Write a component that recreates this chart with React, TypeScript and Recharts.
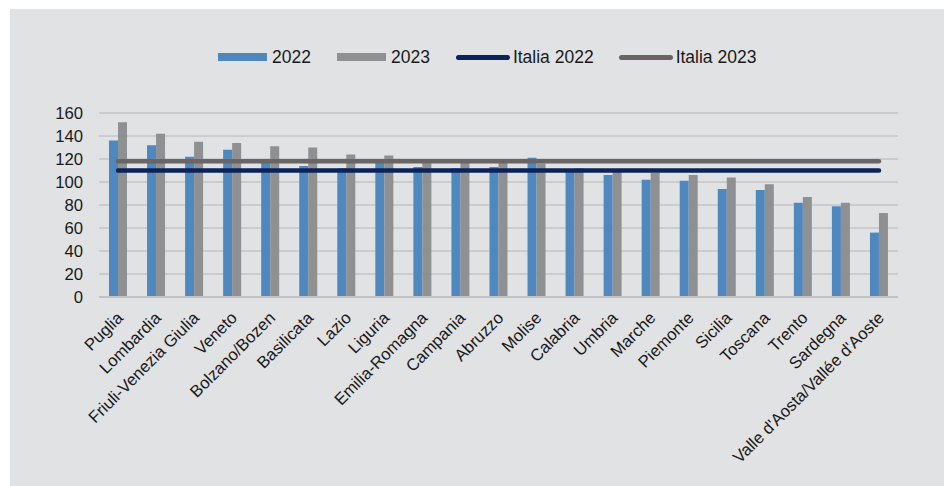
import { ComposedChart, Bar, Line, XAxis, YAxis, CartesianGrid } from 'recharts';

const regions = [
  'Puglia', 'Lombardia', 'Friuli-Venezia Giulia', 'Veneto', 'Bolzano/Bozen', 'Basilicata', 'Lazio',
  'Liguria', 'Emilia-Romagna', 'Campania', 'Abruzzo', 'Molise', 'Calabria', 'Umbria', 'Marche',
  'Piemonte', 'Sicilia', 'Toscana', 'Trento', 'Sardegna', "Valle d'Aosta/Vallée d'Aoste",
];
const values2022 = [136, 132, 122, 128, 118, 114, 112, 117, 113, 112, 113, 121, 110, 106, 102, 101, 94, 93, 82, 79, 56];
const values2023 = [152, 142, 135, 134, 131, 130, 124, 123, 119, 119, 119, 116, 112, 109, 108, 106, 104, 98, 87, 82, 73];
const italia2022 = 110;
const italia2023 = 118;
const yTicks = [0, 20, 40, 60, 80, 100, 120, 140, 160];

const data = regions.map((name, i) => ({
  name,
  y2022: values2022[i],
  y2023: values2023[i],
  it2022: italia2022,
  it2023: italia2023,
}));

const BLUE = '#4f87bf';
const GRAY = '#8f9092';
const NAVY = '#0b2358';
const DARKGRAY = '#696565';
const FONT = '"Liberation Sans", Arial, sans-serif';

function RotatedTick({ x, y, payload }: any) {
  const tx = x + 6;
  const ty = y + 20;
  return (
    <text
      x={tx}
      y={ty}
      transform={`rotate(-45, ${tx}, ${ty})`}
      textAnchor="end"
      fontSize={16.7}
      fontFamily={FONT}
      fill="#1a1a1a"
    >
      {payload.value}
    </text>
  );
}

function LegendItem({ color, label, line }: { color: string; label: string; line?: boolean }) {
  return (
    <div style={{ display: 'flex', alignItems: 'center', marginRight: line ? 25 : 26 }}>
      {line ? (
        <div style={{ width: 54, height: 5, borderRadius: 3, background: color, marginRight: 3 }} />
      ) : (
        <div style={{ width: 49, height: 8, background: color, marginRight: 5 }} />
      )}
      <span>{label}</span>
    </div>
  );
}

export default function App() {
  return (
    <div
      style={{
        position: 'absolute',
        left: 10,
        top: 9,
        width: 934,
        height: 477,
        background: '#e1e2e4',
        fontFamily: FONT,
      }}
    >
      <div
        style={{
          position: 'absolute',
          left: 208,
          top: 38,
          display: 'flex',
          fontSize: 17.5,
          color: '#1a1a1a',
          lineHeight: '20px',
        }}
      >
        <LegendItem color={BLUE} label="2022" />
        <LegendItem color={GRAY} label="2023" />
        <LegendItem color={NAVY} label="Italia 2022" line />
        <LegendItem color={DARKGRAY} label="Italia 2023" line />
      </div>
      <ComposedChart
        width={934}
        height={477}
        data={data}
        margin={{ top: 104, right: 46, left: 0, bottom: 0 }}
        barGap={0}
      >
        <CartesianGrid vertical={false} stroke="#c4c5c7" strokeWidth={1.4} />
        <XAxis
          dataKey="name"
          interval={0}
          height={189}
          tickLine={false}
          tickSize={0}
          axisLine={{ stroke: '#c0c1c3', strokeWidth: 2 }}
          tick={<RotatedTick />}
        />
        <YAxis
          width={89}
          domain={[0, 160]}
          ticks={yTicks}
          interval={0}
          axisLine={false}
          tickLine={false}
          tickSize={0}
          tickMargin={16}
          tick={{ fontSize: 16.7, fontFamily: FONT, fill: '#1a1a1a' }}
        />
        <Bar dataKey="y2022" name="2022" fill={BLUE} barSize={9} isAnimationActive={false} />
        <Bar dataKey="y2023" name="2023" fill={GRAY} barSize={9} isAnimationActive={false} />
        <Line
          dataKey="it2022"
          name="Italia 2022"
          stroke={NAVY}
          strokeWidth={4.5}
          strokeLinecap="round"
          dot={false}
          activeDot={false}
          isAnimationActive={false}
        />
        <Line
          dataKey="it2023"
          name="Italia 2023"
          stroke={DARKGRAY}
          strokeWidth={4.5}
          strokeLinecap="round"
          dot={false}
          activeDot={false}
          isAnimationActive={false}
        />
      </ComposedChart>
    </div>
  );
}
